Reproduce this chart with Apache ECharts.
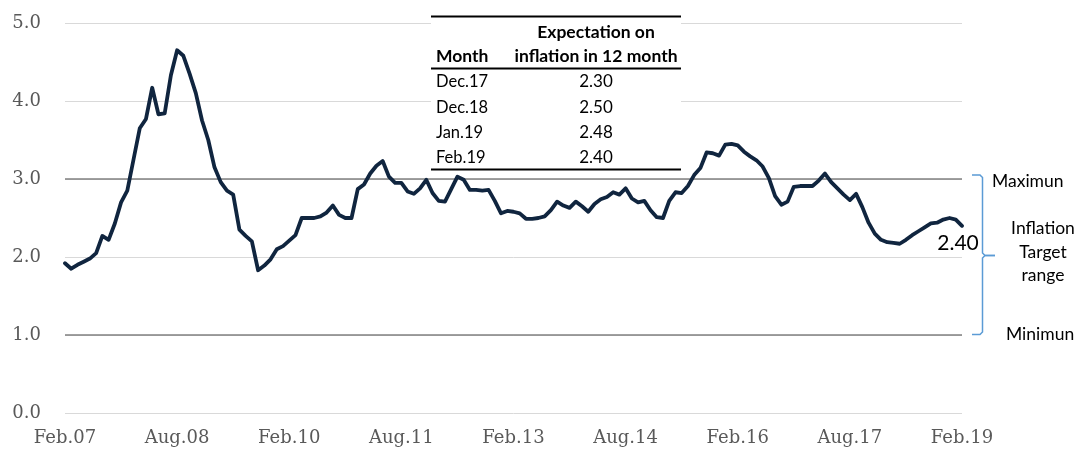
<!DOCTYPE html>
<html>
<head>
<meta charset="utf-8">
<script src="https://cdn.jsdelivr.net/npm/echarts@6/dist/echarts.min.js"></script>
<style>
html,body{margin:0;padding:0;background:#fff;}
#chart{width:1077px;height:452px;}
</style>
</head>
<body>
<div id="chart"></div>
<script>
// ---- data ----
const monthNames = ['Jan','Feb','Mar','Apr','May','Jun','Jul','Aug','Sep','Oct','Nov','Dec'];
const startYear = 2007, startMonth = 1, monthCount = 145; // Feb.07 .. Feb.19
const categories = [];
for (let k = 0; k < monthCount; k++) {
  const m = (startMonth + k) % 12;
  const y = startYear + Math.floor((startMonth + k) / 12);
  categories.push(monthNames[m] + '.' + String(y % 100).padStart(2, '0'));
}
const inflationExpectation = [
  1.92,1.85,1.90,1.94,1.98,2.05,2.27,2.22,2.43,2.70,2.85,3.25,
  3.65,3.77,4.17,3.83,3.84,4.33,4.65,4.58,4.35,4.10,3.75,3.50,
  3.15,2.96,2.85,2.80,2.35,2.27,2.20,1.83,1.89,1.97,2.10,2.14,
  2.21,2.28,2.50,2.50,2.50,2.52,2.57,2.66,2.54,2.50,2.50,2.87,
  2.93,3.07,3.17,3.23,3.03,2.95,2.95,2.84,2.81,2.88,2.99,2.82,
  2.72,2.71,2.87,3.03,2.99,2.86,2.86,2.85,2.86,2.72,2.56,2.59,
  2.58,2.56,2.49,2.49,2.50,2.52,2.60,2.71,2.66,2.63,2.71,2.65,
  2.58,2.68,2.74,2.77,2.83,2.80,2.88,2.75,2.70,2.72,2.60,2.51,
  2.50,2.72,2.83,2.82,2.91,3.05,3.14,3.34,3.33,3.30,3.44,3.45,
  3.43,3.35,3.29,3.24,3.16,3.01,2.78,2.67,2.71,2.90,2.91,2.91,
  2.91,2.98,3.07,2.96,2.88,2.80,2.73,2.81,2.64,2.44,2.30,2.22,
  2.19,2.18,2.17,2.22,2.28,2.33,2.38,2.43,2.44,2.48,2.50,2.48,
  2.40
];
const xTickLabels = ['Feb.07','Aug.08','Feb.10','Aug.11','Feb.13','Aug.14','Feb.16','Aug.17','Feb.19'];
const yTicks = [0, 1, 2, 3, 4, 5];
const targetRange = { min: 1.0, max: 3.0 };
const targetLabels = { max: 'Maximun', mid: 'Inflation\nTarget\nrange', min: 'Minimun' };
const tableHeader = ['Month', 'Expectation on\ninflation in 12 month'];
const tableMonths = ['Dec.17', 'Dec.18', 'Jan.19', 'Feb.19'];
const tableValues = [2.30, 2.50, 2.48, 2.40];

// ---- chart ----
const chart = echarts.init(document.getElementById('chart'), null, { renderer: 'canvas' });
const lastIdx = inflationExpectation.length - 1;
const lastVal = inflationExpectation[lastIdx];

const tFont = 'Lato';
const tableGraphic = [];
const tx0 = 431, tx1 = 681, colMonthX = 436, colValX = 596;
tableGraphic.push({ type: 'rect', shape: { x: tx0, y: 14, width: tx1 - tx0, height: 157 }, style: { fill: '#fff' }, z: 50 });
tableGraphic.push({ type: 'line', shape: { x1: tx0, y1: 16.5, x2: tx1, y2: 16.5 }, style: { stroke: '#000', lineWidth: 2 }, z: 51 });
tableGraphic.push({ type: 'line', shape: { x1: tx0, y1: 68.5, x2: tx1, y2: 68.5 }, style: { stroke: '#000', lineWidth: 2 }, z: 51 });
tableGraphic.push({ type: 'line', shape: { x1: tx0, y1: 169.5, x2: tx1, y2: 169.5 }, style: { stroke: '#000', lineWidth: 2 }, z: 51 });
const hdr2 = tableHeader[1].split('\n');
tableGraphic.push({ type: 'text', x: colValX, y: 32, z: 52, style: { text: hdr2[0], font: 'bold 17.5px ' + tFont, fill: '#000', align: 'center', verticalAlign: 'middle' } });
tableGraphic.push({ type: 'text', x: colValX, y: 56, z: 52, style: { text: hdr2[1], font: 'bold 17.5px ' + tFont, fill: '#000', align: 'center', verticalAlign: 'middle' } });
tableGraphic.push({ type: 'text', x: colMonthX, y: 56, z: 52, style: { text: tableHeader[0], font: 'bold 17.5px ' + tFont, fill: '#000', align: 'left', verticalAlign: 'middle' } });
tableMonths.forEach((m, k) => {
  const y = 82 + k * 25.3;
  tableGraphic.push({ type: 'text', x: colMonthX, y: y, z: 52, style: { text: m, font: '16.5px ' + tFont, fill: '#000', align: 'left', verticalAlign: 'middle' } });
  tableGraphic.push({ type: 'text', x: colValX, y: y, z: 52, style: { text: tableValues[k].toFixed(2), font: '17px ' + tFont, fill: '#000', align: 'center', verticalAlign: 'middle' } });
});

const braceStyle = { stroke: '#5b9bd5', lineWidth: 1.5, fill: null };
const annoGraphic = [
  { type: 'text', x: 992, y: 181, style: { text: targetLabels.max, font: '17.5px ' + tFont, fill: '#000', align: 'left', verticalAlign: 'middle' } },
  { type: 'text', x: 1043, y: 252, style: { text: targetLabels.mid, font: '17.5px ' + tFont, fill: '#000', align: 'center', verticalAlign: 'middle', lineHeight: 23.5 } },
  { type: 'text', x: 1006, y: 334, style: { text: targetLabels.min, font: '17.5px ' + tFont, fill: '#000', align: 'left', verticalAlign: 'middle' } },
  { type: 'polyline', shape: { points: [[972,175],[980,175],[982.5,177.5],[982.5,253],[985,255.5],[995,255.5]] }, style: braceStyle },
  { type: 'polyline', shape: { points: [[995,255.5],[985,255.5],[982.5,258],[982.5,332],[980,334.5],[972,334.5]] }, style: braceStyle }
];

const option = {
  animation: false,
  grid: { left: 65, right: 115, top: 23, bottom: 39, containLabel: false },
  xAxis: {
    type: 'category',
    data: categories,
    boundaryGap: false,
    axisLine: { show: false },
    axisTick: { show: false },
    splitLine: { show: false },
    axisLabel: {
      interval: (idx, val) => xTickLabels.indexOf(val) >= 0,
      margin: 16,
      fontFamily: 'DejaVu Serif',
      fontSize: 18,
      color: '#595959'
    }
  },
  yAxis: {
    type: 'value',
    min: yTicks[0], max: yTicks[yTicks.length - 1], interval: 1,
    axisLine: { show: false },
    axisTick: { show: false },
    axisLabel: {
      formatter: v => v.toFixed(1),
      margin: 24,
      fontFamily: 'DejaVu Serif',
      fontSize: 18,
      color: '#595959'
    },
    splitLine: { lineStyle: { color: '#d9d9d9', width: 1 } }
  },
  series: [{
    type: 'line',
    data: inflationExpectation,
    showSymbol: false,
    symbol: 'none',
    lineStyle: { color: '#10253f', width: 3.8, cap: 'round', join: 'round' },
    z: 5,
    markLine: {
      silent: true,
      symbol: 'none',
      label: { show: false },
      lineStyle: { color: '#808080', width: 1.5, type: 'solid' },
      data: [{ yAxis: targetRange.min }, { yAxis: targetRange.max }],
      z: 3
    },
    markPoint: {
      silent: true,
      symbol: 'circle',
      symbolSize: 1,
      itemStyle: { color: 'rgba(0,0,0,0)' },
      label: {
        show: true, position: 'bottom', distance: 6, offset: [-4, 0],
        formatter: p => Number(p.value).toFixed(2),
        fontFamily: 'Lato', fontSize: 21, color: '#000'
      },
      data: [{ coord: [lastIdx, lastVal], value: lastVal }]
    }
  }],
  graphic: tableGraphic.concat(annoGraphic)
};
chart.setOption(option);
</script>
</body>
</html>
